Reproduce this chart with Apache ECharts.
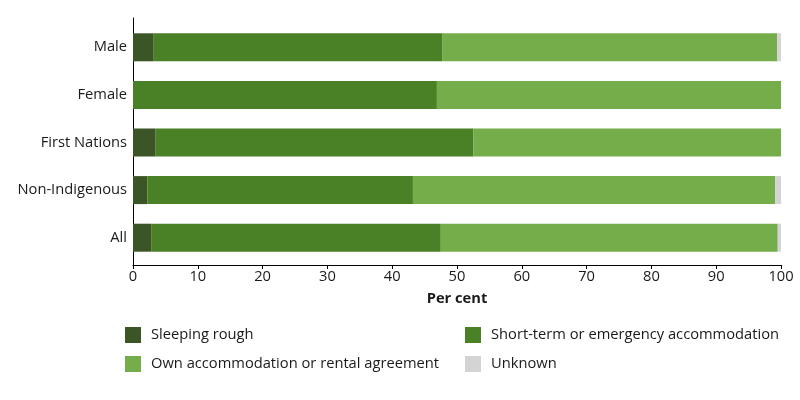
<!DOCTYPE html>
<html>
<head>
<meta charset="utf-8">
<script src="https://cdn.jsdelivr.net/npm/echarts@6/dist/echarts.min.js"></script>
<style>html,body{margin:0;padding:0;background:#fff}#c{width:800px;height:400px}</style>
</head>
<body>
<div id="c"></div>
<script>
const categories = ['Male', 'Female', 'First Nations', 'Non-Indigenous', 'All'];
const seriesNames = ['Sleeping rough', 'Short-term or emergency accommodation', 'Own accommodation or rental agreement', 'Unknown'];
const sleepingRough = [3.2, 0, 3.5, 2.2, 2.8];
const shortTerm = [44.5, 46.9, 49.0, 41.0, 44.7];
const ownAccommodation = [51.7, 53.1, 47.5, 55.9, 52.0];
const unknown = [0.6, 0, 0, 0.9, 0.5];
const xTicks = [0, 10, 20, 30, 40, 50, 60, 70, 80, 90, 100];
const colors = ['#3b5526', '#4b8126', '#75ad4a', '#d4d4d4'];

const font = '"Open Sans", "Noto Sans", sans-serif';
const textColor = '#1a1a1a';
const fs = 14.7;
const values = [sleepingRough, shortTerm, ownAccommodation, unknown];

const chart = echarts.init(document.getElementById('c'), null, {renderer: 'canvas'});
chart.setOption({
  animation: false,
  textStyle: {fontFamily: font},
  grid: [
    {left: 133, right: 19, top: 23.5, height: 238, containLabel: false},
    {left: 133, right: 19, top: 18, height: 247, containLabel: false}
  ],
  xAxis: [
    {gridIndex: 0, type: 'value', min: 0, max: 100, show: false},
    {
      gridIndex: 1, type: 'value', min: xTicks[0], max: xTicks[xTicks.length - 1], interval: 10,
      axisLine: {show: true, lineStyle: {color: '#000', width: 1}},
      axisTick: {show: true, length: 4, lineStyle: {color: '#000'}},
      splitLine: {show: false},
      axisLabel: {color: textColor, fontSize: fs, fontFamily: font, margin: 4},
      name: 'Per cent', nameLocation: 'middle', nameGap: 26,
      nameTextStyle: {color: textColor, fontSize: fs, fontWeight: 'bold', fontFamily: font}
    }
  ],
  yAxis: [
    {
      gridIndex: 0, type: 'category', data: categories, inverse: true,
      axisLine: {show: false}, axisTick: {show: false},
      axisLabel: {color: textColor, fontSize: fs, fontFamily: font, margin: 6}
    },
    {
      gridIndex: 1, type: 'value', min: 0, max: 1,
      axisLine: {show: true, lineStyle: {color: '#000', width: 1}},
      axisTick: {show: false}, axisLabel: {show: false}, splitLine: {show: false}
    }
  ],
  legend: [
    {
      data: [seriesNames[0], seriesNames[2]], orient: 'vertical', left: 125, top: 327, padding: 0,
      itemWidth: 16, itemHeight: 16, itemGap: 13, icon: 'rect',
      textStyle: {color: textColor, fontSize: fs, fontFamily: font, padding: [0, 0, 0, 5]}
    },
    {
      data: [seriesNames[1], seriesNames[3]], orient: 'vertical', left: 465, top: 327, padding: 0,
      itemWidth: 16, itemHeight: 16, itemGap: 13, icon: 'rect',
      textStyle: {color: textColor, fontSize: fs, fontFamily: font, padding: [0, 0, 0, 5]}
    }
  ],
  series: seriesNames.map((name, i) => ({
    name: name, type: 'bar', stack: 'total', xAxisIndex: 0, yAxisIndex: 0,
    data: values[i], barWidth: 28, itemStyle: {color: colors[i]},
    emphasis: {disabled: true}
  }))
});
</script>
</body>
</html>
